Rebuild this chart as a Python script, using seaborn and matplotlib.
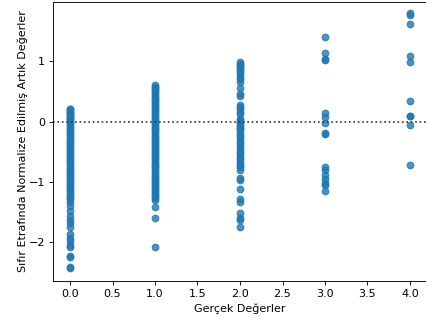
import matplotlib
matplotlib.use("Agg")
import matplotlib.pyplot as plt
import seaborn as sns
import pandas as pd

# residuals, grouped by actual value
res_0 = [0.21, 0.20, 0.18, 0.16, 0.14, 0.12, 0.10, 0.08, 0.06, 0.04, 0.02, 0.0,
         -0.03, -0.06, -0.09, -0.12, -0.15, -0.18, -0.21, -0.24, -0.27, -0.30,
         -0.33, -0.36, -0.39, -0.42, -0.45, -0.48, -0.51, -0.54, -0.57, -0.60,
         -0.63, -0.66, -0.69, -0.72, -0.75, -0.78, -0.81, -0.84, -0.87, -0.90,
         -0.93, -0.96, -0.99, -1.02, -1.05, -1.08, -1.11, -1.14, -1.17, -1.20,
         -1.23, -1.26, -1.29, -1.33, -1.40, -1.48, -1.57, -1.63, -1.68, -1.74,
         -1.86, -1.92, -1.98, -2.04, -2.08, -2.22, -2.25, -2.41, -2.43]
res_1 = [0.60, 0.58, 0.56, 0.53, 0.50, 0.47, 0.44, 0.41, 0.38, 0.35, 0.32,
         0.29, 0.26, 0.23, 0.20, 0.17, 0.14, 0.11, 0.08, 0.05, 0.02, -0.01,
         -0.04, -0.07, -0.10, -0.13, -0.16, -0.19, -0.22, -0.25, -0.28, -0.31,
         -0.34, -0.37, -0.40, -0.43, -0.46, -0.49, -0.52, -0.55, -0.58, -0.61,
         -0.64, -0.67, -0.70, -0.73, -0.76, -0.79, -0.82, -0.85, -0.88, -0.91,
         -0.94, -0.97, -1.00, -1.03, -1.06, -1.09, -1.12, -1.15, -1.18, -1.21,
         -1.24, -1.27, -1.30, -1.42, -1.60, -2.08]
res_2 = [0.98, 0.96, 0.94, 0.91, 0.88, 0.85, 0.82, 0.78, 0.74, 0.70, 0.66,
         0.55, 0.45, 0.42, 0.28, 0.24, 0.20, 0.16, 0.12, 0.05, 0.02, -0.01,
         -0.04, -0.07, -0.10, -0.13, -0.16, -0.20, -0.24, -0.28, -0.32, -0.36,
         -0.40, -0.44, -0.48, -0.52, -0.56, -0.60, -0.64, -0.68, -0.72, -0.76,
         -0.80, -0.93, -0.97, -1.12, -1.28, -1.33, -1.51, -1.60, -1.63, -1.75]
res_3 = [1.40, 1.13, 1.03, 1.02, 0.15, 0.07, -0.03, -0.19, -0.21, -0.75,
         -0.80, -0.88, -0.95, -1.01, -1.05, -1.15]
res_4 = [1.79, 1.76, 1.61, 1.08, 0.98, 0.34, 0.10, 0.09, -0.05, -0.72]

groups = [0.0, 1.0, 2.0, 3.0, 4.0]
x_ticks = [0.0, 0.5, 1.0, 1.5, 2.0, 2.5, 3.0, 3.5, 4.0]

rows = []
for g, vals in zip(groups, [res_0, res_1, res_2, res_3, res_4]):
    for v in vals:
        rows.append((g, v))
df = pd.DataFrame(rows, columns=["actual", "resid"])

# rendered at a lower dpi so fonts/markers come out at the reference scale
fig = plt.figure(figsize=(426 / 80, 324 / 80), dpi=80)
ax = fig.add_axes([53 / 426, 43 / 324, 374 / 426, 279 / 324])

sns.regplot(data=df, x="actual", y="resid", fit_reg=False, ax=ax,
            color="#1f77b4")
ax.axhline(0, ls=":", c=".2")

ax.set_xlim(-0.2, 4.2)
ax.set_ylim(-2.64, 1.98)
ax.set_xticks(x_ticks)
ax.set_xticklabels([f"{t:.1f}" for t in x_ticks])
ax.set_xlabel("Gerçek Değerler")
ax.set_ylabel("Sıfır Etrafında Normalize Edilmiş Artık Değerler", labelpad=1)

fig.savefig("out.png", dpi=80)
